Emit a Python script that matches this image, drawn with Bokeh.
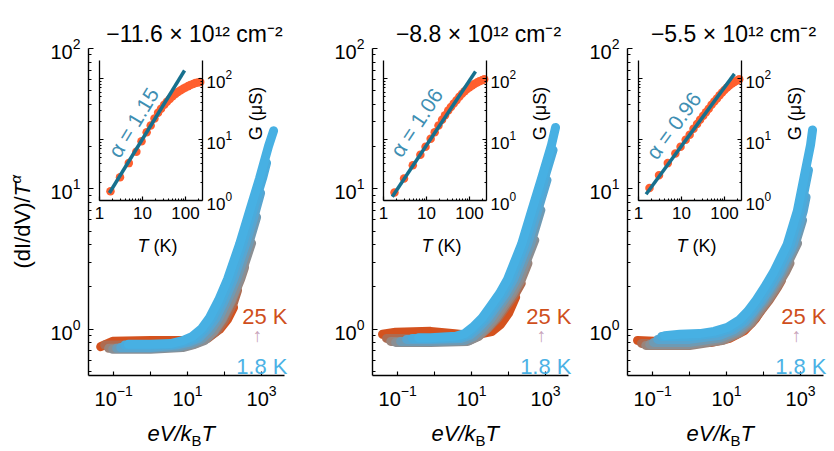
import math
from bokeh.plotting import figure
from bokeh.layouts import row
from bokeh.models import (Range1d, LogScale, LogAxis, FixedTicker, Label,
                          BasicTickFormatter, CustomJSTickFormatter)
from bokeh.embed import file_html
from bokeh.resources import INLINE

FONT = "Liberation Sans"

# ---------------------------------------------------------------- data
densities = ["\u221211.6 \u00d7 10\u00b9\u00b2 cm\u207b\u00b2",
             "\u22128.8 \u00d7 10\u00b9\u00b2 cm\u207b\u00b2",
             "\u22125.5 \u00d7 10\u00b9\u00b2 cm\u207b\u00b2"]
alphas = [1.15, 1.06, 0.96]

# one curve per temperature (K), 1.8 K drawn last (on top)
temps = [1.8, 2.5, 3.5, 5, 7.5, 11, 16, 25]
curve_colors = ["#47b0e3", "#4aabdc", "#58a5d0", "#6f9ab3",
                "#8a8f94", "#9a847b", "#ae6b50", "#d4521e"]

# scaled conductance (dI/dV)/T^alpha versus eV/kBT, panel 1
p1_x = [[0.25, 1.0, 3.47, 7.33, 13.6, 23.9, 39.3, 68.8, 120, 254, 474, 883, 1546, 2110],
        [0.2, 1.0, 4.2, 8.8, 16.4, 28.8, 47.4, 83, 145, 306, 571, 1064, 1365],
        [0.155, 1.0, 5.0, 10.6, 19.8, 34.7, 57.1, 100, 175, 370, 688, 940],
        [0.12, 1.0, 6.1, 12.8, 23.9, 41.8, 68.8, 120, 211, 445, 733],
        [0.094, 1.0, 7.33, 15.5, 28.8, 50.4, 83, 145, 254, 537],
        [0.073, 1.0, 7.8, 16.4, 30.6, 53.7, 88.3, 155, 271, 347],
        [0.057, 1.0, 8.83, 18.6, 34.7, 60.8, 100, 175, 224],
        [0.0445, 0.094, 1.0, 8.83, 22.5, 41.8, 73.3, 120, 175]]
p1_y = [[0.78, 0.78, 0.79, 0.83, 0.89, 1.01, 1.21, 1.61, 2.27, 4.03, 6.94, 11.9, 20.2, 25.9],
        [0.77, 0.77, 0.78, 0.82, 0.87, 1.01, 1.21, 1.61, 2.27, 4.03, 6.94, 11.9, 15.3],
        [0.74, 0.74, 0.77, 0.805, 0.86, 1.0, 1.19, 1.61, 2.27, 4.03, 6.94, 9.33],
        [0.73, 0.73, 0.75, 0.79, 0.85, 0.98, 1.19, 1.61, 2.27, 4.03, 6.29],
        [0.72, 0.72, 0.74, 0.78, 0.83, 0.965, 1.175, 1.58, 2.27, 4.10],
        [0.73, 0.73, 0.75, 0.79, 0.85, 0.965, 1.175, 1.58, 2.27, 2.76],
        [0.77, 0.77, 0.78, 0.82, 0.86, 0.965, 1.156, 1.55, 1.89],
        [0.75, 0.82, 0.83, 0.83, 0.86, 0.90, 0.997, 1.175, 1.43]]

# panel 2
p2_x = [[0.37, 0.78, 3.7, 6.47, 10.6, 18.6, 32.6, 57.1, 94, 224, 418, 780, 1450, 1860],
        [0.25, 0.78, 4.45, 7.8, 12.8, 22.5, 39.3, 68.8, 113, 271, 504, 940, 1595],
        [0.175, 0.78, 5.37, 9.4, 15.5, 27.1, 47.4, 83, 136, 326, 608, 1092],
        [0.12, 0.78, 6.47, 11.3, 18.6, 32.6, 57.1, 100, 164, 393, 746],
        [0.088, 0.78, 7.8, 13.6, 22.5, 39.3, 68.8, 120, 198, 511],
        [0.065, 0.78, 8.83, 15.5, 25.4, 44.5, 78, 136, 224, 334],
        [0.05, 0.78, 10, 17.5, 28.8, 50.4, 88.3, 155, 220],
        [0.039, 0.088, 0.78, 3.5, 10.6, 34.7, 60.8, 100, 155]]
p2_y = [[0.87, 0.87, 0.89, 0.93, 1.03, 1.19, 1.46, 1.80, 2.27, 4.03, 6.94, 11.9, 20.6, 27.4],
        [0.86, 0.86, 0.87, 0.92, 1.03, 1.19, 1.46, 1.80, 2.27, 4.03, 6.94, 11.9, 18.9],
        [0.846, 0.846, 0.86, 0.91, 1.02, 1.19, 1.46, 1.80, 2.27, 4.03, 6.94, 11.56],
        [0.818, 0.818, 0.832, 0.89, 1.0, 1.18, 1.46, 1.80, 2.27, 4.03, 7.06],
        [0.805, 0.805, 0.818, 0.88, 1.0, 1.175, 1.46, 1.80, 2.27, 4.31],
        [0.818, 0.818, 0.832, 0.89, 1.0, 1.18, 1.46, 1.80, 2.27, 2.95],
        [0.86, 0.86, 0.874, 0.92, 1.02, 1.19, 1.46, 1.80, 2.12],
        [0.92, 0.95, 0.965, 0.93, 0.90, 0.96, 1.08, 1.30, 1.69]]

# panel 3
p3_x = [[0.21, 0.54, 1.86, 4.59, 10.6, 21.8, 37, 62.7, 106, 186, 431, 815, 1236, 1862, 2110],
        [0.175, 1.0, 5.54, 12.8, 26.2, 44.5, 75.5, 128, 224, 520, 982, 1636],
        [0.137, 1.0, 6.67, 15.5, 31.6, 53.7, 91, 155, 271, 627, 1183, 1408],
        [0.106, 1.0, 6.67, 17.5, 35.8, 60.8, 103, 175, 306, 710, 1132],
        [0.083, 1.0, 7.33, 19.8, 40.5, 68.8, 117, 198, 347, 830],
        [0.065, 1.0, 8.3, 22.5, 45.9, 78, 132, 224, 393, 518],
        [0.05, 1.0, 8.83, 23.9, 48.9, 83, 141, 239, 306],
        [0.039, 0.155, 1.0, 3.93, 12.1, 30.6, 60.8, 106, 175]]
p3_y = [[0.90, 0.92, 0.93, 0.965, 1.03, 1.16, 1.34, 1.61, 1.99, 2.55, 4.0, 6.94, 12.0, 20.6, 26.3],
        [0.888, 0.888, 0.939, 1.013, 1.146, 1.34, 1.61, 1.99, 2.55, 4.0, 6.94, 13.6],
        [0.846, 0.846, 0.903, 0.988, 1.131, 1.34, 1.61, 1.99, 2.55, 4.0, 6.94, 8.74],
        [0.805, 0.805, 0.868, 0.965, 1.118, 1.34, 1.61, 1.99, 2.55, 4.0, 5.99],
        [0.779, 0.779, 0.846, 0.949, 1.109, 1.34, 1.61, 1.99, 2.55, 4.10],
        [0.766, 0.766, 0.834, 0.941, 1.104, 1.34, 1.61, 1.99, 2.55, 2.95],
        [0.792, 0.792, 0.857, 0.956, 1.113, 1.34, 1.61, 1.99, 2.23],
        [0.832, 0.818, 0.805, 0.805, 0.86, 0.98, 1.19, 1.50, 1.89]]

# zero-bias conductance G (uS) versus temperature T (K), insets
ins_T = [1.8, 3, 4.8, 7.2, 9.5, 12.5, 15.5, 19, 23, 27, 32, 37, 43, 50,
         58, 67, 77, 88, 100, 115, 130, 150, 170, 195, 220]
ins_G1 = [1.42, 2.4, 4.1, 6.3, 9.4, 13.2, 17, 22, 27.5, 32, 37, 41.5, 46, 51,
          55.5, 60, 64, 68, 71.5, 75, 78, 81, 84, 86, 88]
ins_G2 = [1.35, 2.3, 3.8, 5.6, 7.6, 10.3, 13.2, 17, 21, 25, 30, 34, 39, 44,
          50, 56, 62, 67, 72, 77, 81, 86, 90, 94, 97]
ins_G3 = [1.6, 2.6, 4.1, 5.9, 7.6, 9.9, 12, 15, 18, 21, 24.5, 28, 32, 37,
          42, 47, 53, 59, 65, 71, 77, 83, 88, 93, 97]
# power-law fits G = A * T^alpha over [T_start, T_end]
fit_A = [0.72, 0.70, 0.86]
fit_T = [[1.7, 95], [1.6, 138], [1.5, 170]]

panel_x = [p1_x, p2_x, p3_x]
panel_y = [p1_y, p2_y, p3_y]
panel_G = [ins_G1, ins_G2, ins_G3]

# ---------------------------------------------------------------- layout
H = 451
W = [300, 278, 256]
BL = [88, 72, 49]          # left edge of the main axes inside each figure
TOP, BOTTOM = 48, 76       # main axes: top at y=48, bottom at y=375
FW, FH = 196, H - TOP - BOTTOM
X_LO, X_HI = -1.68, 3.62   # log10 extent of the main x axis
Y_LO, Y_HI = -0.33, 2.0    # log10 extent of the main y axis
KX = FW / (X_HI - X_LO)
KY = FH / (Y_HI - Y_LO)

# inset geometry
INS_DX = 11          # offset of the T = 1 K spine from the main y axis
INS_KX = 43.0        # px per decade of T
INS_BOT = 200        # page y of G = 1 uS
INS_KY = 61.0        # px per decade of G
T_LO, T_HI = 1, 250
G_LO, G_HI = 1, 10 ** 2.3

DOT = "#ff5f2e"
FIT = "#17708e"
ALPHA_C = "#3f8fb3"
ORANGE_TXT = "#cf4f1c"
BLUE_TXT = "#4cb2e5"
ARROW_C = "#c9a4ba"


def at(dx, py):
    """Offset from the main y axis (px) and page y (px) -> main data coords."""
    return 10 ** (X_LO + dx / KX), 10 ** (Y_HI - (py - TOP) / KY)


def label(p, dx, py, text, size, color="black", style="normal",
          align="left", baseline="alphabetic", angle=0.0):
    x, y = at(dx, py)
    p.add_layout(Label(x=x, y=y, text=text, text_font=FONT,
                       text_font_size=f"{size}px", text_color=color,
                       text_font_style=style, text_align=align,
                       text_baseline=baseline, angle=angle))


def decade_minors(decades):
    return [m * d for d in decades for m in range(2, 10)]


def style_axis(ax, size, major_in, minor_in, width=1.4):
    ax.major_tick_in, ax.major_tick_out = major_in, 0
    ax.minor_tick_in, ax.minor_tick_out = minor_in, 0
    ax.axis_line_width = width
    ax.major_tick_line_width = 1.2
    ax.minor_tick_line_width = 1.1
    ax.major_label_text_font = FONT
    ax.major_label_text_font_size = f"{size}px"
    ax.major_label_text_color = "black"


def build(i):
    bl, w = BL[i], W[i]
    # the plotting frame fills the whole figure; axes sit at fixed locations
    p = figure(width=w, height=H, x_axis_type="log", y_axis_type="log",
               x_axis_location=None, y_axis_location=None,
               x_range=Range1d(10 ** (X_LO - bl / KX), 10 ** (X_LO + (w - bl) / KX)),
               y_range=Range1d(10 ** (Y_LO - BOTTOM / KY), 10 ** (Y_HI + TOP / KY)),
               output_backend="svg", toolbar_location=None, min_border=0)
    p.outline_line_color = None
    p.grid.visible = False
    p.background_fill_color = "white"
    p.border_fill_color = "white"

    xa = LogAxis(fixed_location=10 ** Y_LO, bounds=(10 ** X_LO, 10 ** X_HI),
                 ticker=FixedTicker(ticks=[0.1, 10, 1000], minor_ticks=[1, 100]))
    style_axis(xa, 20, 4, 4)
    xa.major_label_standoff = 9
    ya = LogAxis(fixed_location=10 ** X_LO, bounds=(10 ** Y_LO, 10 ** Y_HI),
                 ticker=FixedTicker(ticks=[1, 10, 100],
                                    minor_ticks=[0.5, 0.6, 0.7, 0.8, 0.9] + decade_minors([1, 10])))
    style_axis(ya, 20, 5, 3)
    ya.major_label_standoff = 8
    p.add_layout(xa, "below")
    p.add_layout(ya, "left")

    # scaled curves, hottest first so that 1.8 K ends up on top
    xs, ys = panel_x[i], panel_y[i]
    for j in reversed(range(len(temps))):
        p.line(xs[j], ys[j], line_width=9, line_color=curve_colors[j],
               line_cap="round", line_join="round")

    # inset coordinate system
    x0 = bl + INS_DX
    p.extra_x_ranges = {"ix": Range1d(10 ** (-x0 / INS_KX), 10 ** ((w - x0) / INS_KX))}
    p.extra_y_ranges = {"iy": Range1d(10 ** (-(H - INS_BOT) / INS_KY), 10 ** (INS_BOT / INS_KY))}
    p.extra_x_scales = {"ix": LogScale()}
    p.extra_y_scales = {"iy": LogScale()}

    p.scatter(ins_T, panel_G[i], x_range_name="ix", y_range_name="iy",
              size=8.5, fill_color=DOT, line_color=None)
    t0, t1 = fit_T[i]
    a = alphas[i]
    p.line([t0, t1], [fit_A[i] * t0 ** a, fit_A[i] * t1 ** a],
           x_range_name="ix", y_range_name="iy", line_width=3.5,
           line_color=FIT)

    g_minor = decade_minors([1, 10])
    bax = LogAxis(x_range_name="ix", y_range_name="iy", fixed_location=G_LO,
                  bounds=(T_LO, T_HI),
                  ticker=FixedTicker(ticks=[1, 10, 100],
                                     minor_ticks=decade_minors([1, 10]) + [200]),
                  formatter=BasicTickFormatter())
    lax = LogAxis(x_range_name="ix", y_range_name="iy", fixed_location=T_LO,
                  bounds=(G_LO, G_HI),
                  ticker=FixedTicker(ticks=[1, 10, 100], minor_ticks=g_minor),
                  formatter=CustomJSTickFormatter(code="return ''"))
    rax = LogAxis(x_range_name="ix", y_range_name="iy", fixed_location=T_HI,
                  bounds=(G_LO, G_HI),
                  ticker=FixedTicker(ticks=[1, 10, 100], minor_ticks=g_minor))
    for ax in (bax, lax, rax):
        style_axis(ax, 17, 4, 2, width=1.3)
    bax.major_label_standoff = 6
    rax.major_label_standoff = 4
    p.add_layout(bax, "below")
    p.add_layout(lax, "left")
    p.add_layout(rax, "right")

    # texts
    label(p, 106, 33, densities[i], 23, align="center")
    label(p, 49, 245, "T", 18, style="italic")
    label(p, 65, 245, "(K)", 18)
    label(p, 167, 113, "G (\u03bcS)", 18, align="center", baseline="middle",
          angle=math.pi / 2)
    ang = math.atan2(a * INS_KY, INS_KX)
    label(p, [45, 44, 46][i], [122, 122, 125][i], f"\u03b1 = {a:.2f}", 21,
          color=ALPHA_C, align="center", baseline="middle", angle=ang)

    label(p, 199, 316, "25 K", 22, color=ORANGE_TXT, align="right")
    label(p, 169, 335, "\u2191", 19, color=ARROW_C, align="center", baseline="middle")
    label(p, 199, 366, "1.8 K", 22, color=BLUE_TXT, align="right")

    label(p, 59, 433, "eV/k", 22, style="italic")
    label(p, 103, 440, "B", 15)
    label(p, 113, 433, "T", 22, style="italic")

    if i == 0:
        label(p, -66, 268, "(dI/dV)/", 22, baseline="middle", angle=math.pi / 2)
        label(p, -66, 196, "T", 22, style="italic", baseline="middle",
              angle=math.pi / 2)
        label(p, -73, 183, "\u03b1", 15, style="italic", baseline="middle",
              angle=math.pi / 2)
    return p


layout = row(*[build(i) for i in range(3)])
open("out.html", "w").write(file_html(layout, INLINE))
